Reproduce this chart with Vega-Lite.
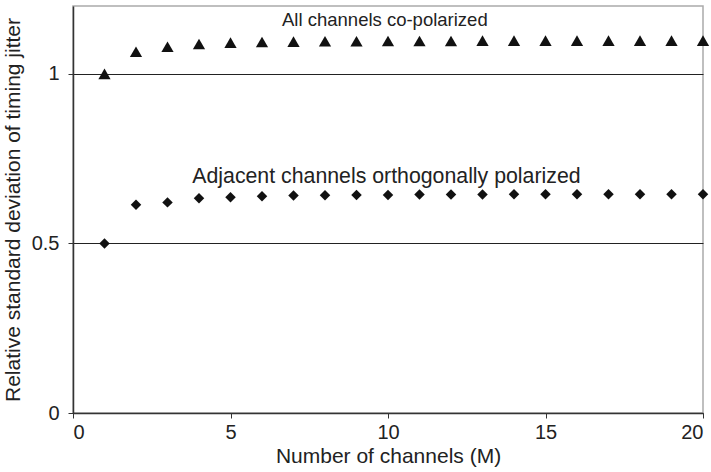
{
  "$schema": "https://vega.github.io/schema/vega-lite/v6.json",
  "width": 630,
  "height": 407,
  "autosize": {"type": "none"},
  "padding": {"left": 73, "top": 6, "right": 8, "bottom": 59},
  "background": "white",
  "config": {
    "view": {"stroke": "#aaaaaa", "strokeWidth": 1.5},
    "font": "Liberation Sans",
    "axis": {"labelFont": "Liberation Sans", "titleFont": "Liberation Sans", "labelColor": "#222", "titleColor": "#222", "titleFontWeight": "normal"}
  },
  "resolve": {"scale": {"size": "independent"}},
  "datasets": {
    "pts": [
      {"M": 1, "y": 1.0, "series": "co"},
      {"M": 2, "y": 1.065, "series": "co"},
      {"M": 3, "y": 1.08, "series": "co"},
      {"M": 4, "y": 1.088, "series": "co"},
      {"M": 5, "y": 1.092, "series": "co"},
      {"M": 6, "y": 1.094, "series": "co"},
      {"M": 7, "y": 1.095, "series": "co"},
      {"M": 8, "y": 1.096, "series": "co"},
      {"M": 9, "y": 1.096, "series": "co"},
      {"M": 10, "y": 1.097, "series": "co"},
      {"M": 11, "y": 1.097, "series": "co"},
      {"M": 12, "y": 1.097, "series": "co"},
      {"M": 13, "y": 1.098, "series": "co"},
      {"M": 14, "y": 1.098, "series": "co"},
      {"M": 15, "y": 1.098, "series": "co"},
      {"M": 16, "y": 1.098, "series": "co"},
      {"M": 17, "y": 1.098, "series": "co"},
      {"M": 18, "y": 1.098, "series": "co"},
      {"M": 19, "y": 1.098, "series": "co"},
      {"M": 20, "y": 1.098, "series": "co"},
      {"M": 1, "y": 0.5, "series": "orth"},
      {"M": 2, "y": 0.614, "series": "orth"},
      {"M": 3, "y": 0.621, "series": "orth"},
      {"M": 4, "y": 0.633, "series": "orth"},
      {"M": 5, "y": 0.636, "series": "orth"},
      {"M": 6, "y": 0.639, "series": "orth"},
      {"M": 7, "y": 0.641, "series": "orth"},
      {"M": 8, "y": 0.642, "series": "orth"},
      {"M": 9, "y": 0.643, "series": "orth"},
      {"M": 10, "y": 0.643, "series": "orth"},
      {"M": 11, "y": 0.644, "series": "orth"},
      {"M": 12, "y": 0.644, "series": "orth"},
      {"M": 13, "y": 0.644, "series": "orth"},
      {"M": 14, "y": 0.645, "series": "orth"},
      {"M": 15, "y": 0.645, "series": "orth"},
      {"M": 16, "y": 0.645, "series": "orth"},
      {"M": 17, "y": 0.645, "series": "orth"},
      {"M": 18, "y": 0.645, "series": "orth"},
      {"M": 19, "y": 0.645, "series": "orth"},
      {"M": 20, "y": 0.645, "series": "orth"}
    ],
    "labels": [
      {"M": 9.9, "y": 1.16, "text": "All channels co-polarized"},
      {"M": 9.95, "y": 0.697, "text": "Adjacent channels orthogonally polarized"}
    ]
  },
  "layer": [
    {
      "data": {"name": "pts"},
      "mark": {"type": "point", "filled": true, "opacity": 1, "clip": false},
      "encoding": {
        "x": {"field": "M", "type": "quantitative", "scale": {"domain": [0, 20], "nice": false},
          "axis": {"values": [0, 5, 10, 15, 20], "title": "Number of channels (M)", "titleFontSize": 21, "labelFontSize": 20, "titlePadding": 3, "labelPadding": 4, "domainColor": "#333", "domainWidth": 1.5, "tickColor": "#333", "tickSize": 5, "grid": false}},
        "y": {"field": "y", "type": "quantitative", "scale": {"domain": [0, 1.2], "nice": false},
          "axis": {"values": [0, 0.5, 1], "format": "~g", "title": "Relative standard deviation of  timing jitter", "titleFontSize": 21, "labelFontSize": 20, "titlePadding": 8, "labelPadding": 9, "domainColor": "#333", "domainWidth": 1.5, "tickColor": "#333", "tickSize": 5, "grid": true, "gridColor": "#222", "gridWidth": 1, "gridOpacity": 1}},
        "shape": {"field": "series", "type": "nominal", "scale": {"domain": ["co", "orth"], "range": ["triangle-up", "diamond"]}, "legend": null},
        "size": {"field": "series", "type": "nominal", "scale": {"domain": ["co", "orth"], "range": [150, 110]}, "legend": null},
        "color": {"value": "#111"}
      }
    },
    {
      "data": {"name": "labels"},
      "mark": {"type": "text", "font": "Liberation Sans", "color": "#222", "align": "center", "baseline": "middle"},
      "encoding": {
        "x": {"field": "M", "type": "quantitative"},
        "y": {"field": "y", "type": "quantitative"},
        "text": {"field": "text"},
        "size": {"field": "text", "type": "nominal", "scale": {"domain": ["All channels co-polarized", "Adjacent channels orthogonally polarized"], "range": [18.5, 21.3]}, "legend": null}
      }
    }
  ]
}
